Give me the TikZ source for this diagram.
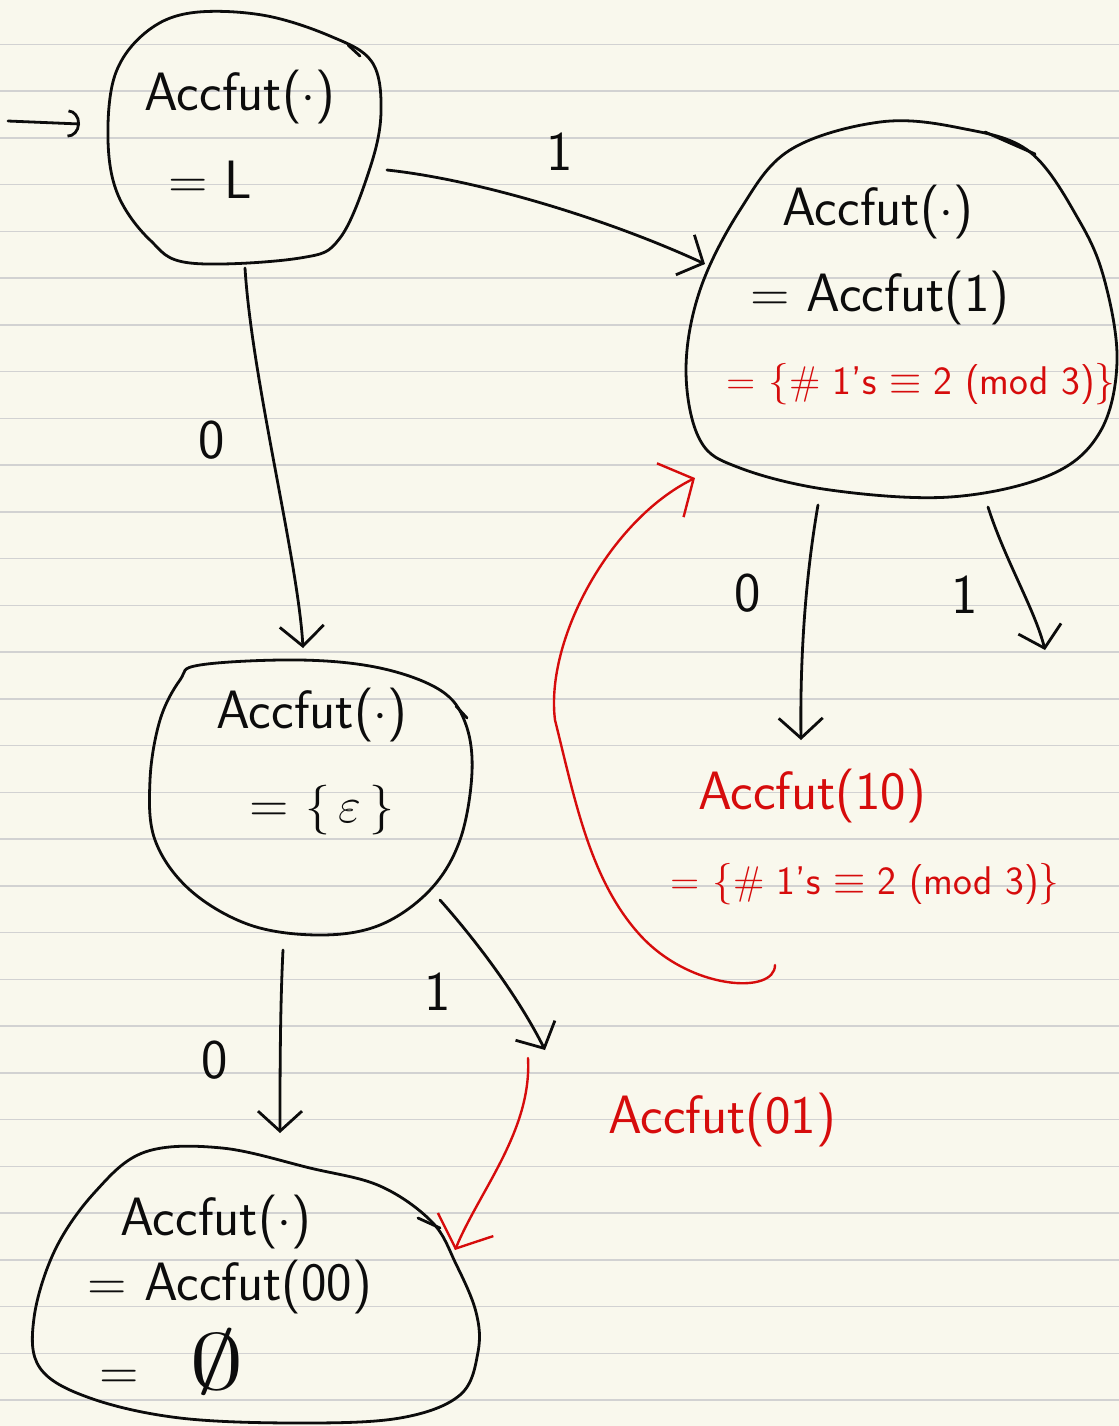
\documentclass[tikz,border=0pt]{standalone}
\usepackage{amssymb}
\usetikzlibrary{arrows.meta}
\definecolor{paper}{RGB}{249,248,237}
\definecolor{ruled}{RGB}{210,210,210}
\definecolor{ink}{RGB}{12,12,12}
\definecolor{redink}{RGB}{214,12,12}
\begin{document}
\begin{tikzpicture}[x=0.5pt,y=-0.5pt,
  blob/.style={draw=ink,line width=1.4pt,line join=round,line cap=round},
  conn/.style={draw=ink,line width=1.4pt,line cap=round,-{Straight Barb[length=10pt,width=22pt,line width=1.4pt]}},
  rconn/.style={conn,draw=redink,line width=1.2pt,-{Straight Barb[length=13pt,width=30pt,line width=1.2pt,color=redink]}},
  startconn/.style={conn,-{Arc Barb[length=6pt,width=14pt,line width=1.4pt]}},
  txt/.style={font=\fontsize{27}{30}\sffamily,text=ink,inner sep=0pt},
  rtxt/.style={txt,text=redink},
  rsmall/.style={font=\fontsize{20}{22}\sffamily,text=redink,inner sep=0pt},
  lbl/.style={font=\fontsize{28}{30}\sffamily,text=ink,inner sep=0pt}]
\useasboundingbox (0,0) rectangle (1119,1426);
\fill[paper] (0,0) rectangle (1119,1426);
\foreach \k in {0,...,29}
  \draw[ruled,line width=0.8pt] (0,44.3+46.75*\k) -- (1119,44.3+46.75*\k);

% ---- blobs ----
\draw[blob] plot[smooth cycle,tension=0.6] coordinates {(190,13) (262,15) (330,36) (372,62) (381,112) (370,168) (340,238) (300,258) (190,263) (150,240) (118,195) (108,140) (115,75) (145,33)};
\draw[blob] (348,45) -- (360,56);
\draw[blob] plot[smooth cycle,tension=0.6] coordinates {(880,122) (960,128) (1030,152) (1080,222) (1105,282) (1117,362) (1100,432) (1050,475) (950,497) (830,490) (740,468) (700,440) (686,370) (700,290) (740,210) (790,150)};
\draw[blob] (985,132) -- (1035,154);
\draw[blob] plot[smooth cycle,tension=0.6] coordinates {(200,665) (300,660) (380,668) (440,690) (465,722) (472,772) (460,840) (430,890) (380,925) (320,935) (250,925) (190,890) (155,840) (150,780) (160,720) (180,680)};
\draw[blob] (456,706) -- (467,718);
\draw[blob] plot[smooth cycle,tension=0.6] coordinates {(145,1152) (222,1148) (310,1168) (380,1186) (432,1222) (456,1264) (476,1312) (478,1352) (460,1395) (400,1418) (300,1423) (180,1418) (90,1398) (40,1368) (34,1318) (55,1250) (95,1192)};
\draw[blob] (418,1218) -- (440,1228);

% ---- texts ----
\node[txt] (a1) at (240,97) {Accfut($\cdot$)};
\node[txt] (a2) at (210,180) {= L};
\node[txt] (b1) at (878,212) {Accfut($\cdot$)};
\node[txt] (b2) at (880,298) {= Accfut(1)};
\node[rsmall] (b3) at (921,384) {= $\Bigl\{$\# 1's $\equiv$ 2 (mod 3)$\Bigr\}$};
\node[txt] (c1) at (312,715) {Accfut($\cdot$)};
\node[txt] (c2) at (322,810) {= $\Bigl\{\,\varepsilon\,\Bigr\}$};
\node[txt] (d1) at (216,1222) {Accfut($\cdot$)};
\node[txt] (d2) at (230,1287) {= Accfut(00)};
\node[txt] (d3) at (172,1362) {=\ \ \ \scalebox{2.2}[1.6]{$\emptyset$}};
\node[rtxt] (r1) at (812,796) {Accfut(10)};
\node[rsmall] (r2) at (865,884) {= $\Bigl\{$\# 1's $\equiv$ 2 (mod 3)$\Bigr\}$};
\node[rtxt] (r3) at (722,1120) {Accfut(01)};

% ---- labels ----
\node[lbl] (l1) at (560,152) {1};
\node[lbl] (l2) at (212,440) {0};
\node[lbl] (l3) at (748,593) {0};
\node[lbl] (l4) at (965,595) {1};
\node[lbl] (l5) at (215,1060) {0};
\node[lbl] (l6) at (438,992) {1};

% ---- connector ends ----
\coordinate (s0) at (8,121);
\coordinate (aIn) at (80,124);
\coordinate (aR) at (387,170);
\coordinate (bIn) at (705,264);
\coordinate (aB) at (245,268);
\coordinate (cT) at (303,648);
\coordinate (bB1) at (818,505);
\coordinate (r1T) at (801,740);
\coordinate (bB2) at (988,507);
\coordinate (bOut) at (1045,650);
\coordinate (r2B) at (775,965);
\coordinate (bL) at (695,478);
\coordinate (cB) at (283,950);
\coordinate (dT) at (280,1133);
\coordinate (cR) at (440,900);
\coordinate (cOut) at (545,1050);
\coordinate (rs) at (528,1058);
\coordinate (dR) at (455,1250);

% ---- connectors ----
\draw[startconn] (s0) -- (aIn);
\draw[conn] (aR) .. controls (480,180) and (610,220) .. (bIn);
\draw[conn] (aB) .. controls (252,380) and (298,560) .. (cT);
\draw[conn] (bB1) .. controls (805,580) and (800,660) .. (r1T);
\draw[conn] (bB2) .. controls (1005,560) and (1035,610) .. (bOut);
\draw[conn] (cB) .. controls (280,1010) and (280,1080) .. (dT);
\draw[conn] (cR) .. controls (480,945) and (520,1000) .. (cOut);
\draw[rconn] (r2B) .. controls (775,995) and (690,990) .. (640,935) .. controls (590,880) and (575,800) .. (555,720) .. controls (545,640) and (610,520) .. (bL);
\draw[rconn] (rs) .. controls (532,1130) and (480,1190) .. (dR);
\end{tikzpicture}
\end{document}
